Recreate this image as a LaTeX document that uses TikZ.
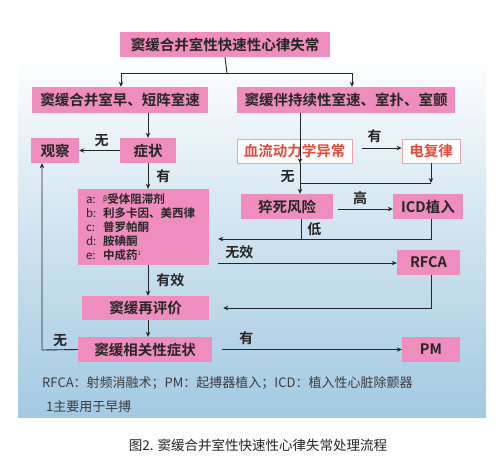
\documentclass[tikz,border=0pt]{standalone}
\usepackage{fontspec}
\setmainfont{Noto Sans CJK SC}[BoldFont={Noto Sans CJK SC Bold}]
\usetikzlibrary{arrows.meta,positioning,calc}
\definecolor{Pink}{HTML}{EE8DBE}
\definecolor{Alarm}{HTML}{E64A3A}
\definecolor{AlarmEdge}{HTML}{EBA7A7}
\definecolor{Sky}{HTML}{A3CAE2}
\definecolor{Haze}{HTML}{CFE3EF}
\definecolor{Ink}{HTML}{262626}
\newcommand{\druglead}[1]{\makebox[17pt][l]{\textmd{#1}}}

\begin{document}
\begin{tikzpicture}[x=1pt,y=-1pt,>={Stealth[length=5pt,width=4.5pt]},
  every node/.style={align=center,inner sep=0pt,text=Ink},
  box/.style={fill=Pink,minimum height=25pt,font=\fontsize{14.5}{16}\selectfont\bfseries},
  hbox/.style={draw=AlarmEdge,line width=0.8pt,fill=white,text=Alarm,minimum height=24pt,font=\fontsize{14.5}{16}\selectfont\bfseries},
  lab/.style={font=\fontsize{14}{16}\selectfont\bfseries},
  link/.style={draw=Ink,line width=0.9pt}]
  \useasboundingbox (0,0) rectangle (502,464);
  % sky panel behind the chart
  \fill[white] (0,0) rectangle (502,464);
  \shade[top color=white,bottom color=Sky,middle color=Haze] (18,55) rectangle (486,417);

  \node[box,minimum width=210pt] (top) at (225,44.5) {窦缓合并室性快速性心律失常};
  \node[box,minimum width=176pt,minimum height=26pt] (lsub) at (120,100) {窦缓合并室早、短阵室速};
  \node[box,minimum width=218pt,minimum height=26pt] (rsub) at (346,100) {窦缓伴持续性室速、室扑、室颤};
  % left branch
  \node[box,minimum width=48pt] (obs) at (55,150.5) {观察};
  \node[box,minimum width=56pt] (sym) at (148,150.5) {症状};
  \node[box,minimum height=76pt,text width=115pt,inner xsep=8pt,align=left,
    font=\fontsize{11.5}{14}\selectfont\bfseries] (drugs) at (143.5,227)
    {\druglead{a:}{\raisebox{2pt}{\fontsize{7}{7}\selectfont\textmd{β}}}受体阻滞剂\\
     \druglead{b:}利多卡因、美西律\\
     \druglead{c:}普罗帕酮\\
     \druglead{d:}胺碘酮\\
     \druglead{e:}中成药\raisebox{4pt}{\fontsize{6}{6}\selectfont\textmd{1}}};
  \node[box,minimum width=127pt,minimum height=24pt] (reval) at (145.5,308) {窦缓再评价};
  \node[box,minimum width=134pt] (relsym) at (145,349.5) {窦缓相关性症状};
  % right branch
  \node[hbox,minimum width=115pt] (hemo) at (294.5,151) {血流动力学异常};
  \node[hbox,minimum width=58pt] (cardio) at (431,151) {电复律};
  \node[box,minimum width=92pt] (risk) at (287,206.5) {猝死风险};
  \node[box,minimum width=70pt] (icd) at (428,206.5) {ICD植入};
  \node[box,minimum width=63pt] (rfca) at (428.5,262.5) {RFCA};
  \node[box,minimum width=58pt] (pm) at (431,349.5) {PM};

  \coordinate (split) at (227,73);
  \coordinate (join) at (300,183);
  \coordinate (low) at (301,239);
  \coordinate (fail) at (218,263);
  \coordinate (back) at (42,350);

  \draw[link] (top.south) -- (split);\draw[link,->] (split) -| ([xshift=1pt]lsub.north);\draw[link,->] (split) -| ([xshift=6pt]rsub.north);
  \draw[link,->] (lsub.south -| sym) -- (sym);
  \draw[link,->] (sym) -- node[lab,above=3pt,pos=0.45] {无} (obs);
  \draw[link,->] (sym) -- node[lab,right=8pt] {有} (drugs.north -| sym);
  \draw[link,->] (drugs.south -| sym) -- node[lab,right=8pt] {有效} (reval.north -| sym);
  \draw[link,->] (reval.south -| sym) -- (relsym.north -| sym);
  \draw[link,->] (relsym.west) -- (back) -- (back |- obs.south);
  \node[lab] at (60,341) {无};
  \draw[link,->,shorten <=10pt] (relsym.east) -- node[lab,above=4pt,pos=0.18] {有} (pm.west);

  \draw[link,->] (rsub.south -| join) -- (hemo.south -| join |- hemo.north);
  \draw[link,->,shorten <=10pt] (hemo.east |- 0,148) -- node[lab,above=5pt,pos=0.45] {有} (cardio.west |- 0,148);
  \draw[link,->] (cardio.south) -- (cardio.south |- join);
  \draw[link] (join) -- (cardio.south |- join);
  \draw[link,->] (hemo.south -| join) -- node[lab,left=5pt,pos=0.45] {无} (risk.north -| join);
  \draw[link,->,shorten <=5pt] (risk.east |- 0,209) -- node[lab,above=4pt,pos=0.45] {高} (icd.west |- 0,209);
  \draw[link] (risk.south -| low) -- node[lab,right=6pt] {低} (low);
  \draw[link,->,shorten >=9pt] (icd.south -| cardio) -- (cardio |- low) -- (drugs.east |- low);
  \draw[link,->] (fail) -- node[lab,above=4pt,pos=0.12] {无效} (rfca.west |- fail);
  \draw[link,->,shorten >=14pt] (rfca.south -| cardio) -- (cardio |- reval) -- (reval.east);

  \node[anchor=west,font=\fontsize{13}{15}\selectfont,text=Ink!90] (abbr) at (42,383)
    {RFCA：射频消融术；PM：起搏器植入；ICD：植入性心脏除颤器};
  \node[anchor=west,font=\fontsize{13}{15}\selectfont,text=Ink!90] (note) at (46,407) {1主要用于早搏};
  \node[font=\fontsize{13.5}{15}\selectfont] (cap) at (258,445) {图2. 窦缓合并室性快速性心律失常处理流程};
\end{tikzpicture}
\end{document}
